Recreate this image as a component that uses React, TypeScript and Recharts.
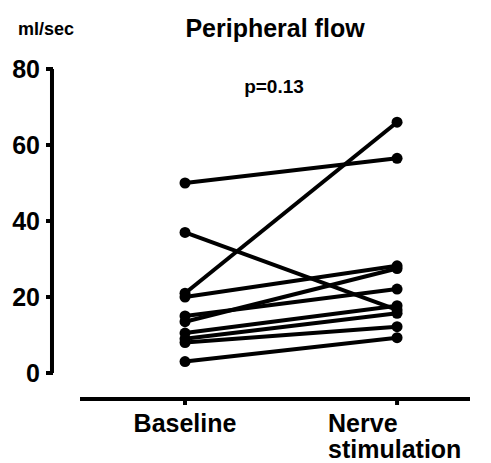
import React from "react";
import { LineChart, Line, XAxis, YAxis, ReferenceLine } from "recharts";

const categories = ["Baseline", "Nerve\nstimulation"];
const baseline = [50, 37, 21, 20, 15, 13.5, 10.5, 9, 8, 3];
const nerve = [56.5, 16.6, 66, 28.2, 22.1, 27.5, 17.7, 15.7, 12.2, 9.3];
const yTicks = [0, 20, 40, 60, 80];

const FONT = "'Liberation Sans', Arial, Helvetica, sans-serif";
const W = 491;
const H = 463;

const pairs = baseline.map((b, i) => [
  { x: 0, y: b },
  { x: 1, y: nerve[i] },
]);

const YTick = (props: any) => {
  const { x, y, payload } = props;
  return (
    <g>
      <line x1={x - 34} x2={x - 27} y1={y} y2={y} stroke="#000" strokeWidth={4} />
      <text
        x={x - 40}
        y={y}
        dy="0.36em"
        textAnchor="end"
        fontFamily={FONT}
        fontWeight="bold"
        fontSize={25}
        fill="#000"
      >
        {payload.value}
      </text>
    </g>
  );
};

const XTick = (props: any) => {
  const { x, y, payload } = props;
  const label = categories[payload.value] ?? "";
  const lines = label.split("\n");
  const multi = lines.length > 1;
  return (
    <g>
      {lines.map((ln, i) => (
        <text
          key={i}
          x={multi ? x - 69 : x}
          y={y + 25 + i * 26}
          textAnchor={multi ? "start" : "middle"}
          fontFamily={FONT}
          fontWeight="bold"
          fontSize={25}
          fill="#000"
        >
          {ln}
        </text>
      ))}
    </g>
  );
};

export default function App() {
  return (
    <div style={{ position: "absolute", left: 0, top: 0, width: W, height: H, background: "#fff" }}>
      <LineChart
        width={W}
        height={H}
        margin={{ top: 69, right: 21, bottom: 0, left: 0 }}
      >
        <XAxis
          type="number"
          dataKey="x"
          domain={[-0.4953, 1.344]}
          ticks={[0, 1]}
          allowDataOverflow
          height={64}
          axisLine={{ stroke: "#000", strokeWidth: 4 }}
          tickLine={{ stroke: "#000", strokeWidth: 4 }}
          tickSize={6}
          tick={<XTick />}
          interval={0}
        />
        <YAxis
          type="number"
          domain={[-6.84, 80]}
          ticks={yTicks}
          allowDataOverflow
          width={80}
          axisLine={false}
          tickLine={false}
          tickSize={0}
          tickMargin={0}
          tick={<YTick />}
          interval={0}
        />
        <ReferenceLine
          segment={[
            { x: -0.6274, y: 0 },
            { x: -0.6274, y: 80 },
          ]}
          ifOverflow="visible"
          stroke="#000"
          strokeWidth={4}
        />
        {pairs.map((d, i) => (
          <Line
            key={i}
            data={d}
            dataKey="y"
            stroke="#000"
            strokeWidth={4}
            dot={{ r: 5.5, fill: "#000", stroke: "#000", strokeWidth: 0 }}
            activeDot={false}
            isAnimationActive={false}
          />
        ))}
      </LineChart>
      <svg
        width={W}
        height={H}
        style={{ position: "absolute", left: 0, top: 0, pointerEvents: "none" }}
      >
        <text x={275} y={37} textAnchor="middle" fontFamily={FONT} fontWeight="bold" fontSize={25} fill="#000">
          Peripheral flow
        </text>
        <text x={18} y={35} textAnchor="start" fontFamily={FONT} fontWeight="bold" fontSize={18} fill="#000">
          ml/sec
        </text>
        <text x={274} y={93} textAnchor="middle" fontFamily={FONT} fontWeight="bold" fontSize={19} fill="#000">
          p=0.13
        </text>
      </svg>
    </div>
  );
}
